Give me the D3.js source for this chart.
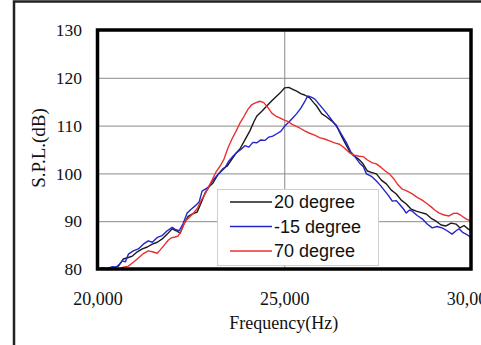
<!DOCTYPE html>
<html>
<head>
<meta charset="utf-8">
<script src="https://cdn.jsdelivr.net/npm/d3@7"></script>
<style>
  html, body { margin: 0; padding: 0; background: #fff; }
  svg { display: block; }
</style>
</head>
<body>
<svg id="chart" width="481" height="345"></svg>
<script>
// ---- data ----
const seriesNames = ["20 degree", "-15 degree", "70 degree"];
const xTicks = [20000, 25000, 30000];
const xTickLabels = ["20,000", "25,000", "30,000"];
const yTicks = [80, 90, 100, 110, 120, 130];

const freq20 = [20000,20213,20400,20560,20693,20827,20933,21067,21200,21333,21467,21600,21733,21867,22000,22107,22213,22320,22427,22533,22667,22773,22880,22987,23093,23227,23360,23467,23600,23707,23813,23947,24080,24187,24267,24400,24533,24667,24800,24907,25013,25120,25227,25333,25440,25547,25680,25787,25867,26000,26133,26267,26400,26533,26667,26773,26880,26987,27093,27227,27333,27467,27600,27733,27867,28000,28133,28267,28400,28533,28667,28800,28933,29067,29200,29333,29467,29600,29707,29813,29920,30000];
const spl20 = [80.0,80.1,80.2,80.6,82.1,82.4,82.7,83.6,84.2,84.6,85.2,85.6,86.3,87.3,88.4,88.0,87.5,89.5,91.0,91.5,91.9,93.8,95.9,97.2,98.0,99.8,101.0,101.5,103.0,104.2,105.1,107.0,108.9,110.8,112.0,113.0,114.1,115.2,116.2,117.0,117.9,118.0,117.6,117.2,116.7,116.4,115.8,114.8,114.1,112.5,111.8,111.0,110.0,107.8,105.8,104.3,103.6,103.0,102.2,100.5,100.2,99.9,98.6,97.8,96.5,95.7,94.4,93.6,92.5,92.1,91.8,91.5,90.6,90.0,89.2,89.0,89.6,89.4,88.6,89.1,88.4,88.0];

const freqM15 = [20000,20133,20267,20400,20507,20587,20667,20747,20827,20960,21093,21227,21360,21467,21600,21733,21867,22000,22080,22187,22293,22400,22507,22613,22720,22800,22907,22987,23093,23200,23307,23413,23520,23627,23733,23840,23947,24053,24160,24267,24373,24480,24587,24693,24800,24907,25013,25120,25227,25333,25440,25547,25627,25707,25813,25920,26027,26133,26240,26347,26453,26560,26667,26773,26880,27013,27120,27200,27333,27467,27573,27653,27787,27893,28000,28080,28187,28267,28347,28427,28560,28693,28827,28960,29093,29227,29360,29493,29600,29680,29787,29867,29947,30000];
const splM15 = [80.0,80.3,80.1,80.5,80.4,81.0,81.7,81.5,83.1,83.8,84.2,85.2,85.9,85.6,86.6,87.0,88.0,88.7,88.3,88.0,89.5,91.7,92.5,93.2,94.0,96.3,96.8,97.3,98.6,99.5,100.4,101.2,102.6,103.6,104.4,105.0,105.8,105.5,106.5,106.4,107.0,106.9,107.6,107.8,108.3,108.8,109.9,110.7,111.6,112.5,113.6,115.0,116.2,116.0,115.6,114.6,113.6,112.6,111.5,110.4,109.2,107.8,106.4,104.6,103.6,102.2,101.4,99.9,99.4,98.4,97.5,96.7,95.4,94.2,94.3,93.6,92.6,91.7,92.3,92.1,91.2,90.5,89.4,88.6,88.9,88.6,88.0,87.3,88.0,88.4,87.6,87.3,86.9,86.5];

const freq70 = [20587,20693,20827,20960,21093,21227,21360,21467,21600,21680,21787,21893,21973,22080,22160,22240,22347,22453,22560,22667,22773,22880,22987,23067,23173,23280,23387,23493,23600,23707,23813,23920,24027,24133,24240,24347,24453,24560,24667,24773,24880,24987,25093,25200,25307,25413,25547,25680,25813,25947,26080,26213,26347,26480,26613,26747,26880,27013,27120,27227,27360,27467,27600,27707,27813,27920,28027,28160,28293,28427,28560,28693,28800,28933,29040,29147,29280,29413,29520,29627,29733,29867,30000];
const spl70 = [80.0,80.4,80.6,81.4,82.3,83.2,83.8,83.6,83.3,84.0,85.0,86.0,86.5,86.7,86.9,88.0,90.0,90.8,91.6,92.6,94.3,95.7,97.4,98.6,100.3,101.5,103.0,105.3,107.2,108.8,110.5,111.9,113.4,114.4,114.8,115.1,114.8,113.8,112.6,112.0,111.6,111.2,110.9,110.3,109.9,109.5,108.9,108.4,108.0,107.5,107.2,106.8,106.4,106.1,105.3,104.3,103.8,103.6,103.5,102.8,102.2,102.0,101.2,100.5,99.9,99.0,97.8,96.7,96.3,95.7,95.0,94.4,93.8,93.0,92.3,91.7,91.3,91.1,91.6,91.7,91.2,90.5,90.0];

const seriesColors = ["#1a1a1a", "#2424cc", "#e83232"];

// ---- layout ----
const svg = d3.select("#chart");
const plot = { left: 97.5, right: 471, top: 30, bottom: 269 };

const x = d3.scaleLinear().domain([20000, 30000]).range([plot.left, plot.right]);
const y = d3.scaleLinear().domain([80, 130]).range([plot.bottom, plot.top]);

// outer frame (clipped by the window on the right and bottom)
svg.append("rect")
  .attr("x", 14).attr("y", 1.5)
  .attr("width", 700).attr("height", 700)
  .attr("fill", "none").attr("stroke", "#222").attr("stroke-width", 2.5);

// horizontal gridlines + y tick labels
const yAxis = d3.axisLeft(y).tickValues(yTicks)
  .tickSize(-(plot.right - plot.left)).tickPadding(15.5)
  .tickFormat(d3.format("d"));
const gy = svg.append("g").attr("transform", `translate(${plot.left},0)`).call(yAxis);
gy.select(".domain").remove();
gy.selectAll(".tick line").attr("stroke", "#8a8a8a").attr("stroke-width", 1);
gy.selectAll(".tick text")
  .attr("font-family", "'Liberation Serif', 'Times New Roman', serif")
  .attr("font-size", 17.5).attr("fill", "#111");

// vertical gridline + x tick labels
const xAxis = d3.axisBottom(x).tickValues(xTicks)
  .tickSize(-(plot.bottom - plot.top)).tickPadding(23)
  .tickFormat((d, i) => xTickLabels[i]);
const gx = svg.append("g").attr("transform", `translate(0,${plot.bottom})`).call(xAxis);
gx.select(".domain").remove();
gx.selectAll(".tick line").attr("stroke", "#8a8a8a").attr("stroke-width", 1)
  .attr("opacity", (d) => (d === 25000 ? 1 : 0));
gx.selectAll(".tick text")
  .attr("font-family", "'Liberation Serif', 'Times New Roman', serif")
  .attr("font-size", 18).attr("fill", "#111");

// series lines
const line = d3.line().x(d => x(d[0])).y(d => y(d[1]));
const seriesData = [
  d3.zip(freq20, spl20),
  d3.zip(freqM15, splM15),
  d3.zip(freq70, spl70)
];
const gLines = svg.append("g");
seriesData.forEach((data, i) => {
  gLines.append("path")
    .datum(data)
    .attr("d", line)
    .attr("fill", "none")
    .attr("stroke", seriesColors[i])
    .attr("stroke-width", 1.4)
    .attr("stroke-linejoin", "round");
});

// plot border
svg.append("rect")
  .attr("x", plot.left).attr("y", plot.top)
  .attr("width", plot.right - plot.left).attr("height", plot.bottom - plot.top)
  .attr("fill", "none").attr("stroke", "#000").attr("stroke-width", 3.5);

// axis titles
svg.append("text")
  .attr("x", (plot.left + plot.right) / 2 - 0.5).attr("y", 329)
  .attr("text-anchor", "middle")
  .attr("font-family", "'Liberation Serif', 'Times New Roman', serif")
  .attr("font-size", 18).attr("fill", "#111")
  .text("Frequency(Hz)");

svg.append("text")
  .attr("transform", "translate(45,148) rotate(-90)")
  .attr("text-anchor", "middle")
  .attr("font-family", "'Liberation Serif', 'Times New Roman', serif")
  .attr("font-size", 19).attr("fill", "#111")
  .text("S.P.L.(dB)");

// legend
const legend = svg.append("g");
legend.append("rect")
  .attr("x", 217.5).attr("y", 189.5).attr("width", 161).attr("height", 76)
  .attr("fill", "#fff").attr("stroke", "#cfcfcf").attr("stroke-width", 1);
seriesNames.forEach((name, i) => {
  const ly = 202 + i * 24.5;
  legend.append("line")
    .attr("x1", 230).attr("x2", 272).attr("y1", ly).attr("y2", ly)
    .attr("stroke", seriesColors[i]).attr("stroke-width", 1.4);
  legend.append("text")
    .attr("x", 274).attr("y", ly).attr("dy", "0.35em")
    .attr("font-family", "'Liberation Sans', Arial, sans-serif")
    .attr("font-size", 18).attr("fill", "#111")
    .text(name);
});
</script>
</body>
</html>
